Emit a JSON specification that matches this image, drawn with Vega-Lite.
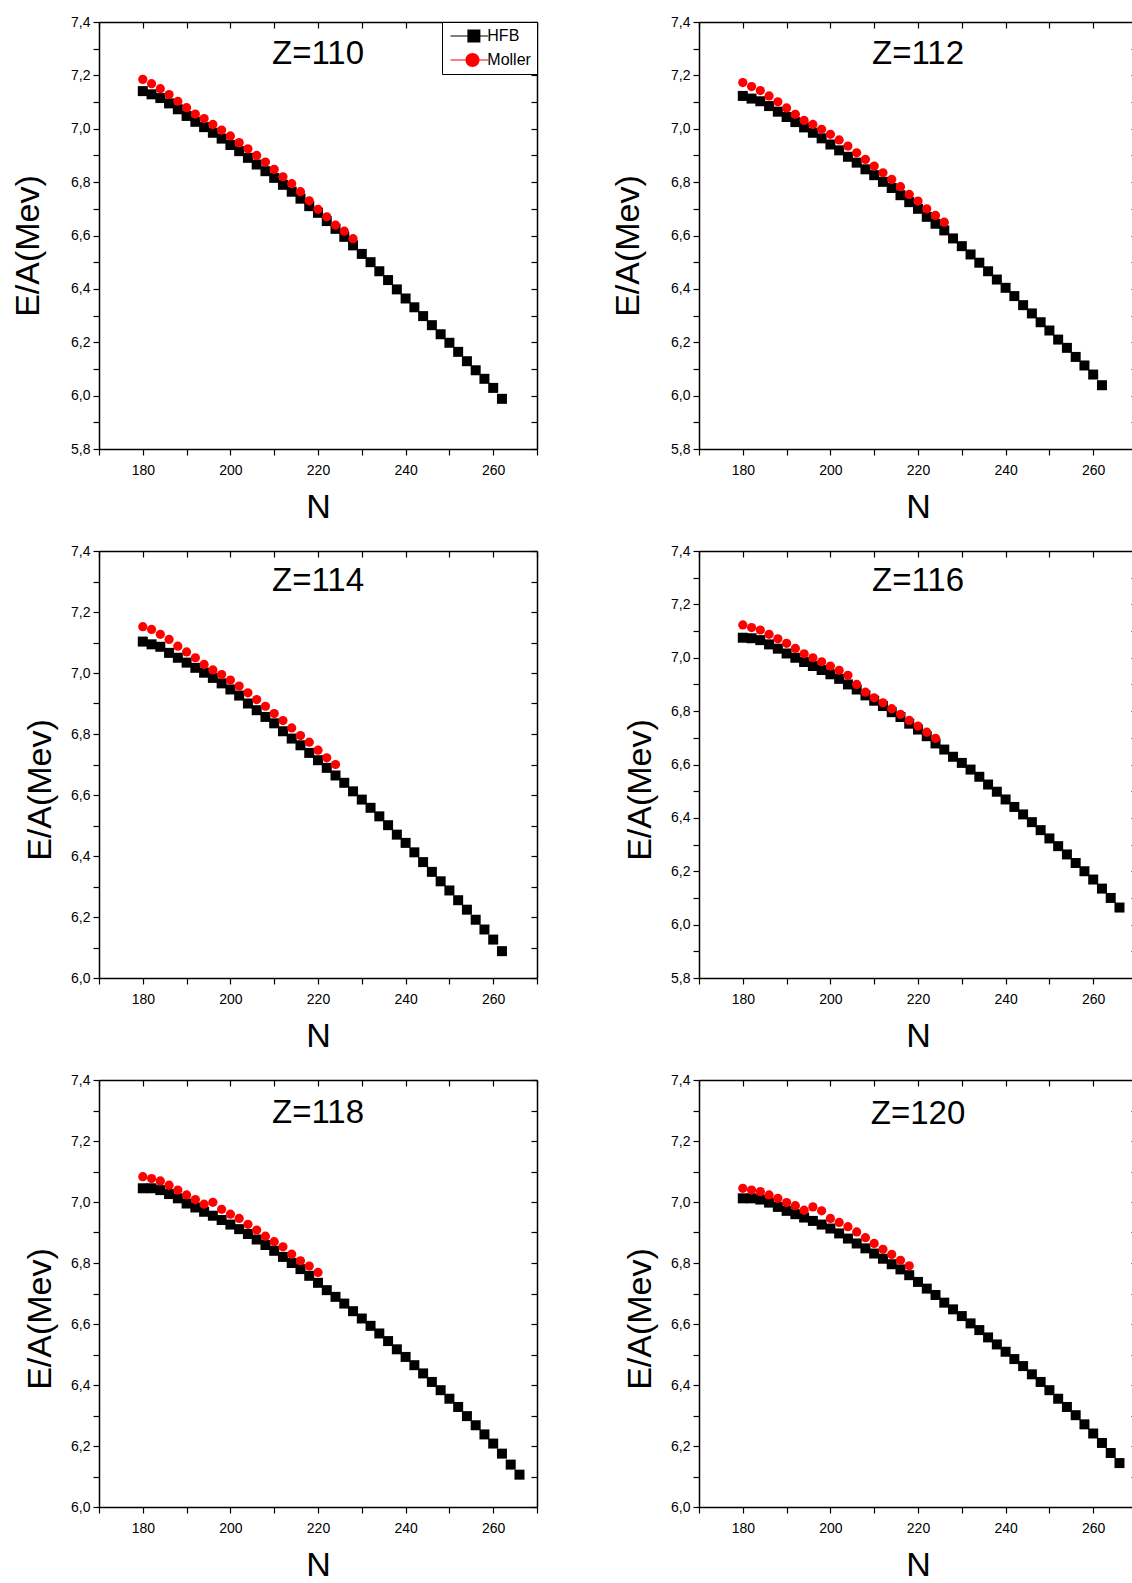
{
"$schema":"https://vega.github.io/schema/vega-lite/v6.json",
"background":"white",
"padding":{"left":11,"top":15,"right":0,"bottom":0},
"autosize":{"type":"pad"},
"data":{"values":[
{"Z":110,"series":"HFB","N":180,"EA":7.141},{"Z":110,"series":"HFB","N":182,"EA":7.129},{"Z":110,"series":"HFB","N":184,"EA":7.115},{"Z":110,"series":"HFB","N":186,"EA":7.095},{"Z":110,"series":"HFB","N":188,"EA":7.073},{"Z":110,"series":"HFB","N":190,"EA":7.048},{"Z":110,"series":"HFB","N":192,"EA":7.026},{"Z":110,"series":"HFB","N":194,"EA":7.006},{"Z":110,"series":"HFB","N":196,"EA":6.985},{"Z":110,"series":"HFB","N":198,"EA":6.963},{"Z":110,"series":"HFB","N":200,"EA":6.939},{"Z":110,"series":"HFB","N":202,"EA":6.916},{"Z":110,"series":"HFB","N":204,"EA":6.891},{"Z":110,"series":"HFB","N":206,"EA":6.866},{"Z":110,"series":"HFB","N":208,"EA":6.841},{"Z":110,"series":"HFB","N":210,"EA":6.816},{"Z":110,"series":"HFB","N":212,"EA":6.790},{"Z":110,"series":"HFB","N":214,"EA":6.764},{"Z":110,"series":"HFB","N":216,"EA":6.738},{"Z":110,"series":"HFB","N":218,"EA":6.710},{"Z":110,"series":"HFB","N":220,"EA":6.685},{"Z":110,"series":"HFB","N":222,"EA":6.654},{"Z":110,"series":"HFB","N":224,"EA":6.625},{"Z":110,"series":"HFB","N":226,"EA":6.595},{"Z":110,"series":"HFB","N":228,"EA":6.563},{"Z":110,"series":"HFB","N":230,"EA":6.531},{"Z":110,"series":"HFB","N":232,"EA":6.500},{"Z":110,"series":"HFB","N":234,"EA":6.466},{"Z":110,"series":"HFB","N":236,"EA":6.433},{"Z":110,"series":"HFB","N":238,"EA":6.398},{"Z":110,"series":"HFB","N":240,"EA":6.364},{"Z":110,"series":"HFB","N":242,"EA":6.331},{"Z":110,"series":"HFB","N":244,"EA":6.298},{"Z":110,"series":"HFB","N":246,"EA":6.264},{"Z":110,"series":"HFB","N":248,"EA":6.230},{"Z":110,"series":"HFB","N":250,"EA":6.198},{"Z":110,"series":"HFB","N":252,"EA":6.164},{"Z":110,"series":"HFB","N":254,"EA":6.129},{"Z":110,"series":"HFB","N":256,"EA":6.095},{"Z":110,"series":"HFB","N":258,"EA":6.063},{"Z":110,"series":"HFB","N":260,"EA":6.029},{"Z":110,"series":"HFB","N":262,"EA":5.988},
{"Z":110,"series":"Moller","N":180,"EA":7.185},{"Z":110,"series":"Moller","N":182,"EA":7.169},{"Z":110,"series":"Moller","N":184,"EA":7.150},{"Z":110,"series":"Moller","N":186,"EA":7.128},{"Z":110,"series":"Moller","N":188,"EA":7.103},{"Z":110,"series":"Moller","N":190,"EA":7.079},{"Z":110,"series":"Moller","N":192,"EA":7.055},{"Z":110,"series":"Moller","N":194,"EA":7.038},{"Z":110,"series":"Moller","N":196,"EA":7.016},{"Z":110,"series":"Moller","N":198,"EA":6.995},{"Z":110,"series":"Moller","N":200,"EA":6.973},{"Z":110,"series":"Moller","N":202,"EA":6.948},{"Z":110,"series":"Moller","N":204,"EA":6.925},{"Z":110,"series":"Moller","N":206,"EA":6.900},{"Z":110,"series":"Moller","N":208,"EA":6.875},{"Z":110,"series":"Moller","N":210,"EA":6.848},{"Z":110,"series":"Moller","N":212,"EA":6.820},{"Z":110,"series":"Moller","N":214,"EA":6.794},{"Z":110,"series":"Moller","N":216,"EA":6.764},{"Z":110,"series":"Moller","N":218,"EA":6.730},{"Z":110,"series":"Moller","N":220,"EA":6.698},{"Z":110,"series":"Moller","N":222,"EA":6.670},{"Z":110,"series":"Moller","N":224,"EA":6.639},{"Z":110,"series":"Moller","N":226,"EA":6.616},{"Z":110,"series":"Moller","N":228,"EA":6.588},
{"Z":112,"series":"HFB","N":180,"EA":7.123},{"Z":112,"series":"HFB","N":182,"EA":7.113},{"Z":112,"series":"HFB","N":184,"EA":7.103},{"Z":112,"series":"HFB","N":186,"EA":7.085},{"Z":112,"series":"HFB","N":188,"EA":7.064},{"Z":112,"series":"HFB","N":190,"EA":7.044},{"Z":112,"series":"HFB","N":192,"EA":7.025},{"Z":112,"series":"HFB","N":194,"EA":7.005},{"Z":112,"series":"HFB","N":196,"EA":6.985},{"Z":112,"series":"HFB","N":198,"EA":6.964},{"Z":112,"series":"HFB","N":200,"EA":6.941},{"Z":112,"series":"HFB","N":202,"EA":6.919},{"Z":112,"series":"HFB","N":204,"EA":6.895},{"Z":112,"series":"HFB","N":206,"EA":6.873},{"Z":112,"series":"HFB","N":208,"EA":6.848},{"Z":112,"series":"HFB","N":210,"EA":6.826},{"Z":112,"series":"HFB","N":212,"EA":6.801},{"Z":112,"series":"HFB","N":214,"EA":6.778},{"Z":112,"series":"HFB","N":216,"EA":6.751},{"Z":112,"series":"HFB","N":218,"EA":6.725},{"Z":112,"series":"HFB","N":220,"EA":6.700},{"Z":112,"series":"HFB","N":222,"EA":6.670},{"Z":112,"series":"HFB","N":224,"EA":6.644},{"Z":112,"series":"HFB","N":226,"EA":6.619},{"Z":112,"series":"HFB","N":228,"EA":6.589},{"Z":112,"series":"HFB","N":230,"EA":6.560},{"Z":112,"series":"HFB","N":232,"EA":6.529},{"Z":112,"series":"HFB","N":234,"EA":6.498},{"Z":112,"series":"HFB","N":236,"EA":6.466},{"Z":112,"series":"HFB","N":238,"EA":6.435},{"Z":112,"series":"HFB","N":240,"EA":6.404},{"Z":112,"series":"HFB","N":242,"EA":6.373},{"Z":112,"series":"HFB","N":244,"EA":6.339},{"Z":112,"series":"HFB","N":246,"EA":6.308},{"Z":112,"series":"HFB","N":248,"EA":6.275},{"Z":112,"series":"HFB","N":250,"EA":6.244},{"Z":112,"series":"HFB","N":252,"EA":6.210},{"Z":112,"series":"HFB","N":254,"EA":6.179},{"Z":112,"series":"HFB","N":256,"EA":6.145},{"Z":112,"series":"HFB","N":258,"EA":6.113},{"Z":112,"series":"HFB","N":260,"EA":6.079},{"Z":112,"series":"HFB","N":262,"EA":6.039},
{"Z":112,"series":"Moller","N":180,"EA":7.173},{"Z":112,"series":"Moller","N":182,"EA":7.158},{"Z":112,"series":"Moller","N":184,"EA":7.143},{"Z":112,"series":"Moller","N":186,"EA":7.123},{"Z":112,"series":"Moller","N":188,"EA":7.101},{"Z":112,"series":"Moller","N":190,"EA":7.078},{"Z":112,"series":"Moller","N":192,"EA":7.054},{"Z":112,"series":"Moller","N":194,"EA":7.031},{"Z":112,"series":"Moller","N":196,"EA":7.016},{"Z":112,"series":"Moller","N":198,"EA":6.998},{"Z":112,"series":"Moller","N":200,"EA":6.979},{"Z":112,"series":"Moller","N":202,"EA":6.958},{"Z":112,"series":"Moller","N":204,"EA":6.935},{"Z":112,"series":"Moller","N":206,"EA":6.910},{"Z":112,"series":"Moller","N":208,"EA":6.885},{"Z":112,"series":"Moller","N":210,"EA":6.860},{"Z":112,"series":"Moller","N":212,"EA":6.835},{"Z":112,"series":"Moller","N":214,"EA":6.810},{"Z":112,"series":"Moller","N":216,"EA":6.783},{"Z":112,"series":"Moller","N":218,"EA":6.754},{"Z":112,"series":"Moller","N":220,"EA":6.729},{"Z":112,"series":"Moller","N":222,"EA":6.700},{"Z":112,"series":"Moller","N":224,"EA":6.675},{"Z":112,"series":"Moller","N":226,"EA":6.650},
{"Z":114,"series":"HFB","N":180,"EA":7.103},{"Z":114,"series":"HFB","N":182,"EA":7.094},{"Z":114,"series":"HFB","N":184,"EA":7.086},{"Z":114,"series":"HFB","N":186,"EA":7.066},{"Z":114,"series":"HFB","N":188,"EA":7.050},{"Z":114,"series":"HFB","N":190,"EA":7.034},{"Z":114,"series":"HFB","N":192,"EA":7.017},{"Z":114,"series":"HFB","N":194,"EA":7.001},{"Z":114,"series":"HFB","N":196,"EA":6.984},{"Z":114,"series":"HFB","N":198,"EA":6.966},{"Z":114,"series":"HFB","N":200,"EA":6.946},{"Z":114,"series":"HFB","N":202,"EA":6.926},{"Z":114,"series":"HFB","N":204,"EA":6.900},{"Z":114,"series":"HFB","N":206,"EA":6.878},{"Z":114,"series":"HFB","N":208,"EA":6.856},{"Z":114,"series":"HFB","N":210,"EA":6.835},{"Z":114,"series":"HFB","N":212,"EA":6.809},{"Z":114,"series":"HFB","N":214,"EA":6.785},{"Z":114,"series":"HFB","N":216,"EA":6.763},{"Z":114,"series":"HFB","N":218,"EA":6.738},{"Z":114,"series":"HFB","N":220,"EA":6.714},{"Z":114,"series":"HFB","N":222,"EA":6.689},{"Z":114,"series":"HFB","N":224,"EA":6.664},{"Z":114,"series":"HFB","N":226,"EA":6.640},{"Z":114,"series":"HFB","N":228,"EA":6.612},{"Z":114,"series":"HFB","N":230,"EA":6.585},{"Z":114,"series":"HFB","N":232,"EA":6.558},{"Z":114,"series":"HFB","N":234,"EA":6.530},{"Z":114,"series":"HFB","N":236,"EA":6.501},{"Z":114,"series":"HFB","N":238,"EA":6.470},{"Z":114,"series":"HFB","N":240,"EA":6.443},{"Z":114,"series":"HFB","N":242,"EA":6.412},{"Z":114,"series":"HFB","N":244,"EA":6.380},{"Z":114,"series":"HFB","N":246,"EA":6.348},{"Z":114,"series":"HFB","N":248,"EA":6.317},{"Z":114,"series":"HFB","N":250,"EA":6.287},{"Z":114,"series":"HFB","N":252,"EA":6.255},{"Z":114,"series":"HFB","N":254,"EA":6.224},{"Z":114,"series":"HFB","N":256,"EA":6.191},{"Z":114,"series":"HFB","N":258,"EA":6.159},{"Z":114,"series":"HFB","N":260,"EA":6.126},{"Z":114,"series":"HFB","N":262,"EA":6.088},
{"Z":114,"series":"Moller","N":180,"EA":7.152},{"Z":114,"series":"Moller","N":182,"EA":7.143},{"Z":114,"series":"Moller","N":184,"EA":7.127},{"Z":114,"series":"Moller","N":186,"EA":7.110},{"Z":114,"series":"Moller","N":188,"EA":7.088},{"Z":114,"series":"Moller","N":190,"EA":7.069},{"Z":114,"series":"Moller","N":192,"EA":7.050},{"Z":114,"series":"Moller","N":194,"EA":7.028},{"Z":114,"series":"Moller","N":196,"EA":7.010},{"Z":114,"series":"Moller","N":198,"EA":6.995},{"Z":114,"series":"Moller","N":200,"EA":6.977},{"Z":114,"series":"Moller","N":202,"EA":6.957},{"Z":114,"series":"Moller","N":204,"EA":6.935},{"Z":114,"series":"Moller","N":206,"EA":6.913},{"Z":114,"series":"Moller","N":208,"EA":6.891},{"Z":114,"series":"Moller","N":210,"EA":6.867},{"Z":114,"series":"Moller","N":212,"EA":6.844},{"Z":114,"series":"Moller","N":214,"EA":6.820},{"Z":114,"series":"Moller","N":216,"EA":6.795},{"Z":114,"series":"Moller","N":218,"EA":6.773},{"Z":114,"series":"Moller","N":220,"EA":6.747},{"Z":114,"series":"Moller","N":222,"EA":6.722},{"Z":114,"series":"Moller","N":224,"EA":6.700},
{"Z":116,"series":"HFB","N":180,"EA":7.075},{"Z":116,"series":"HFB","N":182,"EA":7.073},{"Z":116,"series":"HFB","N":184,"EA":7.066},{"Z":116,"series":"HFB","N":186,"EA":7.050},{"Z":116,"series":"HFB","N":188,"EA":7.034},{"Z":116,"series":"HFB","N":190,"EA":7.016},{"Z":116,"series":"HFB","N":192,"EA":7.000},{"Z":116,"series":"HFB","N":194,"EA":6.984},{"Z":116,"series":"HFB","N":196,"EA":6.969},{"Z":116,"series":"HFB","N":198,"EA":6.954},{"Z":116,"series":"HFB","N":200,"EA":6.938},{"Z":116,"series":"HFB","N":202,"EA":6.921},{"Z":116,"series":"HFB","N":204,"EA":6.900},{"Z":116,"series":"HFB","N":206,"EA":6.881},{"Z":116,"series":"HFB","N":208,"EA":6.859},{"Z":116,"series":"HFB","N":210,"EA":6.839},{"Z":116,"series":"HFB","N":212,"EA":6.819},{"Z":116,"series":"HFB","N":214,"EA":6.796},{"Z":116,"series":"HFB","N":216,"EA":6.778},{"Z":116,"series":"HFB","N":218,"EA":6.753},{"Z":116,"series":"HFB","N":220,"EA":6.731},{"Z":116,"series":"HFB","N":222,"EA":6.706},{"Z":116,"series":"HFB","N":224,"EA":6.679},{"Z":116,"series":"HFB","N":226,"EA":6.656},{"Z":116,"series":"HFB","N":228,"EA":6.629},{"Z":116,"series":"HFB","N":230,"EA":6.606},{"Z":116,"series":"HFB","N":232,"EA":6.581},{"Z":116,"series":"HFB","N":234,"EA":6.554},{"Z":116,"series":"HFB","N":236,"EA":6.525},{"Z":116,"series":"HFB","N":238,"EA":6.498},{"Z":116,"series":"HFB","N":240,"EA":6.469},{"Z":116,"series":"HFB","N":242,"EA":6.441},{"Z":116,"series":"HFB","N":244,"EA":6.413},{"Z":116,"series":"HFB","N":246,"EA":6.384},{"Z":116,"series":"HFB","N":248,"EA":6.354},{"Z":116,"series":"HFB","N":250,"EA":6.323},{"Z":116,"series":"HFB","N":252,"EA":6.294},{"Z":116,"series":"HFB","N":254,"EA":6.263},{"Z":116,"series":"HFB","N":256,"EA":6.231},{"Z":116,"series":"HFB","N":258,"EA":6.200},{"Z":116,"series":"HFB","N":260,"EA":6.169},{"Z":116,"series":"HFB","N":262,"EA":6.135},{"Z":116,"series":"HFB","N":264,"EA":6.100},{"Z":116,"series":"HFB","N":266,"EA":6.064},
{"Z":116,"series":"Moller","N":180,"EA":7.123},{"Z":116,"series":"Moller","N":182,"EA":7.113},{"Z":116,"series":"Moller","N":184,"EA":7.104},{"Z":116,"series":"Moller","N":186,"EA":7.088},{"Z":116,"series":"Moller","N":188,"EA":7.071},{"Z":116,"series":"Moller","N":190,"EA":7.054},{"Z":116,"series":"Moller","N":192,"EA":7.035},{"Z":116,"series":"Moller","N":194,"EA":7.015},{"Z":116,"series":"Moller","N":196,"EA":7.000},{"Z":116,"series":"Moller","N":198,"EA":6.985},{"Z":116,"series":"Moller","N":200,"EA":6.969},{"Z":116,"series":"Moller","N":202,"EA":6.953},{"Z":116,"series":"Moller","N":204,"EA":6.934},{"Z":116,"series":"Moller","N":206,"EA":6.900},{"Z":116,"series":"Moller","N":208,"EA":6.871},{"Z":116,"series":"Moller","N":210,"EA":6.850},{"Z":116,"series":"Moller","N":212,"EA":6.831},{"Z":116,"series":"Moller","N":214,"EA":6.809},{"Z":116,"series":"Moller","N":216,"EA":6.788},{"Z":116,"series":"Moller","N":218,"EA":6.765},{"Z":116,"series":"Moller","N":220,"EA":6.744},{"Z":116,"series":"Moller","N":222,"EA":6.721},{"Z":116,"series":"Moller","N":224,"EA":6.698},
{"Z":118,"series":"HFB","N":180,"EA":7.045},{"Z":118,"series":"HFB","N":182,"EA":7.045},{"Z":118,"series":"HFB","N":184,"EA":7.039},{"Z":118,"series":"HFB","N":186,"EA":7.026},{"Z":118,"series":"HFB","N":188,"EA":7.012},{"Z":118,"series":"HFB","N":190,"EA":6.995},{"Z":118,"series":"HFB","N":192,"EA":6.982},{"Z":118,"series":"HFB","N":194,"EA":6.968},{"Z":118,"series":"HFB","N":196,"EA":6.955},{"Z":118,"series":"HFB","N":198,"EA":6.941},{"Z":118,"series":"HFB","N":200,"EA":6.926},{"Z":118,"series":"HFB","N":202,"EA":6.911},{"Z":118,"series":"HFB","N":204,"EA":6.895},{"Z":118,"series":"HFB","N":206,"EA":6.877},{"Z":118,"series":"HFB","N":208,"EA":6.859},{"Z":118,"series":"HFB","N":210,"EA":6.840},{"Z":118,"series":"HFB","N":212,"EA":6.820},{"Z":118,"series":"HFB","N":214,"EA":6.800},{"Z":118,"series":"HFB","N":216,"EA":6.780},{"Z":118,"series":"HFB","N":218,"EA":6.758},{"Z":118,"series":"HFB","N":220,"EA":6.735},{"Z":118,"series":"HFB","N":222,"EA":6.711},{"Z":118,"series":"HFB","N":224,"EA":6.689},{"Z":118,"series":"HFB","N":226,"EA":6.667},{"Z":118,"series":"HFB","N":228,"EA":6.642},{"Z":118,"series":"HFB","N":230,"EA":6.618},{"Z":118,"series":"HFB","N":232,"EA":6.594},{"Z":118,"series":"HFB","N":234,"EA":6.569},{"Z":118,"series":"HFB","N":236,"EA":6.544},{"Z":118,"series":"HFB","N":238,"EA":6.517},{"Z":118,"series":"HFB","N":240,"EA":6.492},{"Z":118,"series":"HFB","N":242,"EA":6.465},{"Z":118,"series":"HFB","N":244,"EA":6.438},{"Z":118,"series":"HFB","N":246,"EA":6.410},{"Z":118,"series":"HFB","N":248,"EA":6.383},{"Z":118,"series":"HFB","N":250,"EA":6.355},{"Z":118,"series":"HFB","N":252,"EA":6.328},{"Z":118,"series":"HFB","N":254,"EA":6.298},{"Z":118,"series":"HFB","N":256,"EA":6.268},{"Z":118,"series":"HFB","N":258,"EA":6.238},{"Z":118,"series":"HFB","N":260,"EA":6.208},{"Z":118,"series":"HFB","N":262,"EA":6.175},{"Z":118,"series":"HFB","N":264,"EA":6.139},{"Z":118,"series":"HFB","N":266,"EA":6.106},
{"Z":118,"series":"Moller","N":180,"EA":7.083},{"Z":118,"series":"Moller","N":182,"EA":7.077},{"Z":118,"series":"Moller","N":184,"EA":7.069},{"Z":118,"series":"Moller","N":186,"EA":7.055},{"Z":118,"series":"Moller","N":188,"EA":7.039},{"Z":118,"series":"Moller","N":190,"EA":7.023},{"Z":118,"series":"Moller","N":192,"EA":7.008},{"Z":118,"series":"Moller","N":194,"EA":6.993},{"Z":118,"series":"Moller","N":196,"EA":6.999},{"Z":118,"series":"Moller","N":198,"EA":6.976},{"Z":118,"series":"Moller","N":200,"EA":6.960},{"Z":118,"series":"Moller","N":202,"EA":6.946},{"Z":118,"series":"Moller","N":204,"EA":6.927},{"Z":118,"series":"Moller","N":206,"EA":6.908},{"Z":118,"series":"Moller","N":208,"EA":6.888},{"Z":118,"series":"Moller","N":210,"EA":6.870},{"Z":118,"series":"Moller","N":212,"EA":6.853},{"Z":118,"series":"Moller","N":214,"EA":6.829},{"Z":118,"series":"Moller","N":216,"EA":6.807},{"Z":118,"series":"Moller","N":218,"EA":6.790},{"Z":118,"series":"Moller","N":220,"EA":6.769},
{"Z":120,"series":"HFB","N":180,"EA":7.012},{"Z":120,"series":"HFB","N":182,"EA":7.012},{"Z":120,"series":"HFB","N":184,"EA":7.008},{"Z":120,"series":"HFB","N":186,"EA":6.998},{"Z":120,"series":"HFB","N":188,"EA":6.984},{"Z":120,"series":"HFB","N":190,"EA":6.971},{"Z":120,"series":"HFB","N":192,"EA":6.960},{"Z":120,"series":"HFB","N":194,"EA":6.949},{"Z":120,"series":"HFB","N":196,"EA":6.938},{"Z":120,"series":"HFB","N":198,"EA":6.926},{"Z":120,"series":"HFB","N":200,"EA":6.913},{"Z":120,"series":"HFB","N":202,"EA":6.897},{"Z":120,"series":"HFB","N":204,"EA":6.880},{"Z":120,"series":"HFB","N":206,"EA":6.864},{"Z":120,"series":"HFB","N":208,"EA":6.848},{"Z":120,"series":"HFB","N":210,"EA":6.831},{"Z":120,"series":"HFB","N":212,"EA":6.814},{"Z":120,"series":"HFB","N":214,"EA":6.796},{"Z":120,"series":"HFB","N":216,"EA":6.779},{"Z":120,"series":"HFB","N":218,"EA":6.760},{"Z":120,"series":"HFB","N":220,"EA":6.738},{"Z":120,"series":"HFB","N":222,"EA":6.716},{"Z":120,"series":"HFB","N":224,"EA":6.695},{"Z":120,"series":"HFB","N":226,"EA":6.670},{"Z":120,"series":"HFB","N":228,"EA":6.648},{"Z":120,"series":"HFB","N":230,"EA":6.626},{"Z":120,"series":"HFB","N":232,"EA":6.602},{"Z":120,"series":"HFB","N":234,"EA":6.580},{"Z":120,"series":"HFB","N":236,"EA":6.556},{"Z":120,"series":"HFB","N":238,"EA":6.533},{"Z":120,"series":"HFB","N":240,"EA":6.509},{"Z":120,"series":"HFB","N":242,"EA":6.485},{"Z":120,"series":"HFB","N":244,"EA":6.462},{"Z":120,"series":"HFB","N":246,"EA":6.435},{"Z":120,"series":"HFB","N":248,"EA":6.410},{"Z":120,"series":"HFB","N":250,"EA":6.383},{"Z":120,"series":"HFB","N":252,"EA":6.355},{"Z":120,"series":"HFB","N":254,"EA":6.328},{"Z":120,"series":"HFB","N":256,"EA":6.301},{"Z":120,"series":"HFB","N":258,"EA":6.271},{"Z":120,"series":"HFB","N":260,"EA":6.241},{"Z":120,"series":"HFB","N":262,"EA":6.210},{"Z":120,"series":"HFB","N":264,"EA":6.177},{"Z":120,"series":"HFB","N":266,"EA":6.144},
{"Z":120,"series":"Moller","N":180,"EA":7.045},{"Z":120,"series":"Moller","N":182,"EA":7.039},{"Z":120,"series":"Moller","N":184,"EA":7.034},{"Z":120,"series":"Moller","N":186,"EA":7.023},{"Z":120,"series":"Moller","N":188,"EA":7.012},{"Z":120,"series":"Moller","N":190,"EA":6.998},{"Z":120,"series":"Moller","N":192,"EA":6.988},{"Z":120,"series":"Moller","N":194,"EA":6.973},{"Z":120,"series":"Moller","N":196,"EA":6.984},{"Z":120,"series":"Moller","N":198,"EA":6.971},{"Z":120,"series":"Moller","N":200,"EA":6.946},{"Z":120,"series":"Moller","N":202,"EA":6.933},{"Z":120,"series":"Moller","N":204,"EA":6.919},{"Z":120,"series":"Moller","N":206,"EA":6.902},{"Z":120,"series":"Moller","N":208,"EA":6.883},{"Z":120,"series":"Moller","N":210,"EA":6.864},{"Z":120,"series":"Moller","N":212,"EA":6.845},{"Z":120,"series":"Moller","N":214,"EA":6.828},{"Z":120,"series":"Moller","N":216,"EA":6.809},{"Z":120,"series":"Moller","N":218,"EA":6.791}
]},
"columns":2,
"spacing":{"row":102,"column":162},
"bounds":"flush",
"resolve":{"scale":{"color":"independent","shape":"independent","size":"independent"}},
"concat":[
{"width":438,"height":427,
 "transform":[{"filter":"datum.Z == 110"}],
 "resolve":{"axis":{"x":"independent","y":"independent"},"scale":{"color":"independent","shape":"independent"}},
 "layer":[
  {"mark":{"type":"point","filled":true,"opacity":1},
   "encoding":{
    "x":{"field":"N","type":"quantitative","scale":{"domain":[170,270],"nice":false,"zero":false},"axis":{"orient":"bottom","title":"N","values":[170,180,190,200,210,220,230,240,250,260,270],"labelExpr":"datum.value % 20 == 0 && datum.value > 170 && datum.value < 270 ? datum.label : ''"}},
    "y":{"field":"EA","type":"quantitative","scale":{"domain":[5.8,7.4],"nice":false,"zero":false},"axis":{"orient":"left","title":"E/A(Mev)","values":[5.8,5.9,6,6.1,6.2,6.3,6.4,6.5,6.6,6.7,6.8,6.9,7,7.1,7.2,7.3,7.4],"labelExpr":"round(datum.value*10) % 2 == 0 ? replace(format(datum.value, '.1f'), '.', ',') : ''","titlePadding":25,"titleY":223.5}},
    "color":{"field":"series","type":"nominal","scale":{"domain":["HFB","Moller"],"range":["#000000","#ff0000"]},"legend":null},
    "shape":{"field":"series","type":"nominal","scale":{"domain":["HFB","Moller"],"range":["square","circle"]},"legend":null},
    "size":{"field":"series","type":"nominal","scale":{"domain":["HFB","Moller"],"range":[100,85]},"legend":null}
   }},
  {"transform":[{"filter":"false"}],"mark":{"type":"point","filled":true,"opacity":1},
   "encoding":{
    "x":{"field":"N","type":"quantitative","axis":{"orient":"top","title":null,"values":[170,180,190,200,210,220,230,240,250,260,270]}},
    "y":{"field":"EA","type":"quantitative","axis":{"orient":"right","title":null,"values":[5.8,5.9,6,6.1,6.2,6.3,6.4,6.5,6.6,6.7,6.8,6.9,7,7.1,7.2,7.3,7.4]}},
    "color":{"field":"series","type":"nominal","scale":{"domain":["HFB","Moller"],"range":["#000000","#ff0000"]},
      "legend":{"title":null,"orient":"top-right","offset":0,"padding":6,"strokeColor":"black","fillColor":"white","labelFont":"Liberation Sans","labelFontSize":16,"labelColor":"black","labelOffset":23.3,"rowPadding":8,"symbolSize":100,"symbolStrokeWidth":0,"symbolOpacity":1}},
    "shape":{"field":"series","type":"nominal","scale":{"domain":["HFB","Moller"],"range":["M-1.1,-0.12H6.44V0.12H-1.1ZM2.28,-1.3H4.88V1.3H2.28Z","M-1.1,-0.12H6.44V0.12H-1.1ZM4.7,0A1.4,1.4,0,1,1,1.9,0A1.4,1.4,0,1,1,4.7,0Z"]}}
   }},
  {"data":{"values":[{"label":"Z=110"}]},
   "mark":{"type":"text","font":"Liberation Sans","fontSize":33,"baseline":"alphabetic","align":"center","color":"black"},
   "encoding":{"x":{"datum":220,"type":"quantitative","axis":null},"y":{"datum":7.244,"type":"quantitative","axis":null},"text":{"field":"label"}}}
 ]},
{"width":438,"height":427,
 "transform":[{"filter":"datum.Z == 112"}],
 "resolve":{"axis":{"x":"independent","y":"independent"}},
 "layer":[
  {"mark":{"type":"point","filled":true,"opacity":1},
   "encoding":{
    "x":{"field":"N","type":"quantitative","scale":{"domain":[170,270],"nice":false,"zero":false},"axis":{"orient":"bottom","title":"N","values":[170,180,190,200,210,220,230,240,250,260,270],"labelExpr":"datum.value % 20 == 0 && datum.value > 170 && datum.value < 270 ? datum.label : ''"}},
    "y":{"field":"EA","type":"quantitative","scale":{"domain":[5.8,7.4],"nice":false,"zero":false},"axis":{"orient":"left","title":"E/A(Mev)","values":[5.8,5.9,6,6.1,6.2,6.3,6.4,6.5,6.6,6.7,6.8,6.9,7,7.1,7.2,7.3,7.4],"labelExpr":"round(datum.value*10) % 2 == 0 ? replace(format(datum.value, '.1f'), '.', ',') : ''","titlePadding":25,"titleY":223.5}},
    "color":{"field":"series","type":"nominal","scale":{"domain":["HFB","Moller"],"range":["#000000","#ff0000"]},"legend":null},
    "shape":{"field":"series","type":"nominal","scale":{"domain":["HFB","Moller"],"range":["square","circle"]},"legend":null},
    "size":{"field":"series","type":"nominal","scale":{"domain":["HFB","Moller"],"range":[100,85]},"legend":null}
   }},
  {"transform":[{"filter":"false"}],"mark":{"type":"point"},
   "encoding":{
    "x":{"field":"N","type":"quantitative","axis":{"orient":"top","title":null,"values":[170,180,190,200,210,220,230,240,250,260,270]}},
    "y":{"field":"EA","type":"quantitative","axis":{"orient":"right","title":null,"values":[5.8,5.9,6,6.1,6.2,6.3,6.4,6.5,6.6,6.7,6.8,6.9,7,7.1,7.2,7.3,7.4]}}
   }},
  {"data":{"values":[{"label":"Z=112"}]},
   "mark":{"type":"text","font":"Liberation Sans","fontSize":33,"baseline":"alphabetic","align":"center","color":"black"},
   "encoding":{"x":{"datum":220,"type":"quantitative","axis":null},"y":{"datum":7.242,"type":"quantitative","axis":null},"text":{"field":"label"}}}
 ]},
{"width":438,"height":427,
 "transform":[{"filter":"datum.Z == 114"}],
 "resolve":{"axis":{"x":"independent","y":"independent"}},
 "layer":[
  {"mark":{"type":"point","filled":true,"opacity":1},
   "encoding":{
    "x":{"field":"N","type":"quantitative","scale":{"domain":[170,270],"nice":false,"zero":false},"axis":{"orient":"bottom","title":"N","values":[170,180,190,200,210,220,230,240,250,260,270],"labelExpr":"datum.value % 20 == 0 && datum.value > 170 && datum.value < 270 ? datum.label : ''"}},
    "y":{"field":"EA","type":"quantitative","scale":{"domain":[6.0,7.4],"nice":false,"zero":false},"axis":{"orient":"left","title":"E/A(Mev)","values":[6,6.1,6.2,6.3,6.4,6.5,6.6,6.7,6.8,6.9,7,7.1,7.2,7.3,7.4],"labelExpr":"round(datum.value*10) % 2 == 0 ? replace(format(datum.value, '.1f'), '.', ',') : ''","titlePadding":13,"titleY":238.5}},
    "color":{"field":"series","type":"nominal","scale":{"domain":["HFB","Moller"],"range":["#000000","#ff0000"]},"legend":null},
    "shape":{"field":"series","type":"nominal","scale":{"domain":["HFB","Moller"],"range":["square","circle"]},"legend":null},
    "size":{"field":"series","type":"nominal","scale":{"domain":["HFB","Moller"],"range":[100,85]},"legend":null}
   }},
  {"transform":[{"filter":"false"}],"mark":{"type":"point"},
   "encoding":{
    "x":{"field":"N","type":"quantitative","axis":{"orient":"top","title":null,"values":[170,180,190,200,210,220,230,240,250,260,270]}},
    "y":{"field":"EA","type":"quantitative","axis":{"orient":"right","title":null,"values":[6,6.1,6.2,6.3,6.4,6.5,6.6,6.7,6.8,6.9,7,7.1,7.2,7.3,7.4]}}
   }},
  {"data":{"values":[{"label":"Z=114"}]},
   "mark":{"type":"text","font":"Liberation Sans","fontSize":33,"baseline":"alphabetic","align":"center","color":"black"},
   "encoding":{"x":{"datum":220,"type":"quantitative","axis":null},"y":{"datum":7.268,"type":"quantitative","axis":null},"text":{"field":"label"}}}
 ]},
{"width":438,"height":427,
 "transform":[{"filter":"datum.Z == 116"}],
 "resolve":{"axis":{"x":"independent","y":"independent"}},
 "layer":[
  {"mark":{"type":"point","filled":true,"opacity":1},
   "encoding":{
    "x":{"field":"N","type":"quantitative","scale":{"domain":[170,270],"nice":false,"zero":false},"axis":{"orient":"bottom","title":"N","values":[170,180,190,200,210,220,230,240,250,260,270],"labelExpr":"datum.value % 20 == 0 && datum.value > 170 && datum.value < 270 ? datum.label : ''"}},
    "y":{"field":"EA","type":"quantitative","scale":{"domain":[5.8,7.4],"nice":false,"zero":false},"axis":{"orient":"left","title":"E/A(Mev)","values":[5.8,5.9,6,6.1,6.2,6.3,6.4,6.5,6.6,6.7,6.8,6.9,7,7.1,7.2,7.3,7.4],"labelExpr":"round(datum.value*10) % 2 == 0 ? replace(format(datum.value, '.1f'), '.', ',') : ''","titlePadding":13,"titleY":238.5}},
    "color":{"field":"series","type":"nominal","scale":{"domain":["HFB","Moller"],"range":["#000000","#ff0000"]},"legend":null},
    "shape":{"field":"series","type":"nominal","scale":{"domain":["HFB","Moller"],"range":["square","circle"]},"legend":null},
    "size":{"field":"series","type":"nominal","scale":{"domain":["HFB","Moller"],"range":[100,85]},"legend":null}
   }},
  {"transform":[{"filter":"false"}],"mark":{"type":"point"},
   "encoding":{
    "x":{"field":"N","type":"quantitative","axis":{"orient":"top","title":null,"values":[170,180,190,200,210,220,230,240,250,260,270]}},
    "y":{"field":"EA","type":"quantitative","axis":{"orient":"right","title":null,"values":[5.8,5.9,6,6.1,6.2,6.3,6.4,6.5,6.6,6.7,6.8,6.9,7,7.1,7.2,7.3,7.4]}}
   }},
  {"data":{"values":[{"label":"Z=116"}]},
   "mark":{"type":"text","font":"Liberation Sans","fontSize":33,"baseline":"alphabetic","align":"center","color":"black"},
   "encoding":{"x":{"datum":220,"type":"quantitative","axis":null},"y":{"datum":7.25,"type":"quantitative","axis":null},"text":{"field":"label"}}}
 ]},
{"width":438,"height":427,
 "transform":[{"filter":"datum.Z == 118"}],
 "resolve":{"axis":{"x":"independent","y":"independent"}},
 "layer":[
  {"mark":{"type":"point","filled":true,"opacity":1},
   "encoding":{
    "x":{"field":"N","type":"quantitative","scale":{"domain":[170,270],"nice":false,"zero":false},"axis":{"orient":"bottom","title":"N","values":[170,180,190,200,210,220,230,240,250,260,270],"labelExpr":"datum.value % 20 == 0 && datum.value > 170 && datum.value < 270 ? datum.label : ''"}},
    "y":{"field":"EA","type":"quantitative","scale":{"domain":[6.0,7.4],"nice":false,"zero":false},"axis":{"orient":"left","title":"E/A(Mev)","values":[6,6.1,6.2,6.3,6.4,6.5,6.6,6.7,6.8,6.9,7,7.1,7.2,7.3,7.4],"labelExpr":"round(datum.value*10) % 2 == 0 ? replace(format(datum.value, '.1f'), '.', ',') : ''","titlePadding":13,"titleY":238.5}},
    "color":{"field":"series","type":"nominal","scale":{"domain":["HFB","Moller"],"range":["#000000","#ff0000"]},"legend":null},
    "shape":{"field":"series","type":"nominal","scale":{"domain":["HFB","Moller"],"range":["square","circle"]},"legend":null},
    "size":{"field":"series","type":"nominal","scale":{"domain":["HFB","Moller"],"range":[100,85]},"legend":null}
   }},
  {"transform":[{"filter":"false"}],"mark":{"type":"point"},
   "encoding":{
    "x":{"field":"N","type":"quantitative","axis":{"orient":"top","title":null,"values":[170,180,190,200,210,220,230,240,250,260,270]}},
    "y":{"field":"EA","type":"quantitative","axis":{"orient":"right","title":null,"values":[6,6.1,6.2,6.3,6.4,6.5,6.6,6.7,6.8,6.9,7,7.1,7.2,7.3,7.4]}}
   }},
  {"data":{"values":[{"label":"Z=118"}]},
   "mark":{"type":"text","font":"Liberation Sans","fontSize":33,"baseline":"alphabetic","align":"center","color":"black"},
   "encoding":{"x":{"datum":220,"type":"quantitative","axis":null},"y":{"datum":7.259,"type":"quantitative","axis":null},"text":{"field":"label"}}}
 ]},
{"width":438,"height":427,
 "transform":[{"filter":"datum.Z == 120"}],
 "resolve":{"axis":{"x":"independent","y":"independent"}},
 "layer":[
  {"mark":{"type":"point","filled":true,"opacity":1},
   "encoding":{
    "x":{"field":"N","type":"quantitative","scale":{"domain":[170,270],"nice":false,"zero":false},"axis":{"orient":"bottom","title":"N","values":[170,180,190,200,210,220,230,240,250,260,270],"labelExpr":"datum.value % 20 == 0 && datum.value > 170 && datum.value < 270 ? datum.label : ''"}},
    "y":{"field":"EA","type":"quantitative","scale":{"domain":[6.0,7.4],"nice":false,"zero":false},"axis":{"orient":"left","title":"E/A(Mev)","values":[6,6.1,6.2,6.3,6.4,6.5,6.6,6.7,6.8,6.9,7,7.1,7.2,7.3,7.4],"labelExpr":"round(datum.value*10) % 2 == 0 ? replace(format(datum.value, '.1f'), '.', ',') : ''","titlePadding":13,"titleY":238.5}},
    "color":{"field":"series","type":"nominal","scale":{"domain":["HFB","Moller"],"range":["#000000","#ff0000"]},"legend":null},
    "shape":{"field":"series","type":"nominal","scale":{"domain":["HFB","Moller"],"range":["square","circle"]},"legend":null},
    "size":{"field":"series","type":"nominal","scale":{"domain":["HFB","Moller"],"range":[100,85]},"legend":null}
   }},
  {"transform":[{"filter":"false"}],"mark":{"type":"point"},
   "encoding":{
    "x":{"field":"N","type":"quantitative","axis":{"orient":"top","title":null,"values":[170,180,190,200,210,220,230,240,250,260,270]}},
    "y":{"field":"EA","type":"quantitative","axis":{"orient":"right","title":null,"values":[6,6.1,6.2,6.3,6.4,6.5,6.6,6.7,6.8,6.9,7,7.1,7.2,7.3,7.4]}}
   }},
  {"data":{"values":[{"label":"Z=120"}]},
   "mark":{"type":"text","font":"Liberation Sans","fontSize":33,"baseline":"alphabetic","align":"center","color":"black"},
   "encoding":{"x":{"datum":220,"type":"quantitative","axis":null},"y":{"datum":7.256,"type":"quantitative","axis":null},"text":{"field":"label"}}}
 ]}
],
"config":{
 "view":{"stroke":null},
 "font":"Liberation Sans",
 "axis":{"grid":false,"domainColor":"black","domainWidth":1.5,"tickColor":"black","tickWidth":1.2,"tickSize":6,"labelFont":"Liberation Sans","labelFontSize":14,"labelColor":"black","labelFlush":false,"labelOverlap":false,"labelBound":false,"titleFont":"Liberation Sans","titleFontSize":34,"titleFontWeight":"normal","titleColor":"black"},
 "axisX":{"labelPadding":8,"titlePadding":13},
 "axisY":{"labelPadding":3},
 "axisTop":{"labels":false,"tickSize":-6},
 "axisRight":{"labels":false,"tickSize":-6}
}
}
